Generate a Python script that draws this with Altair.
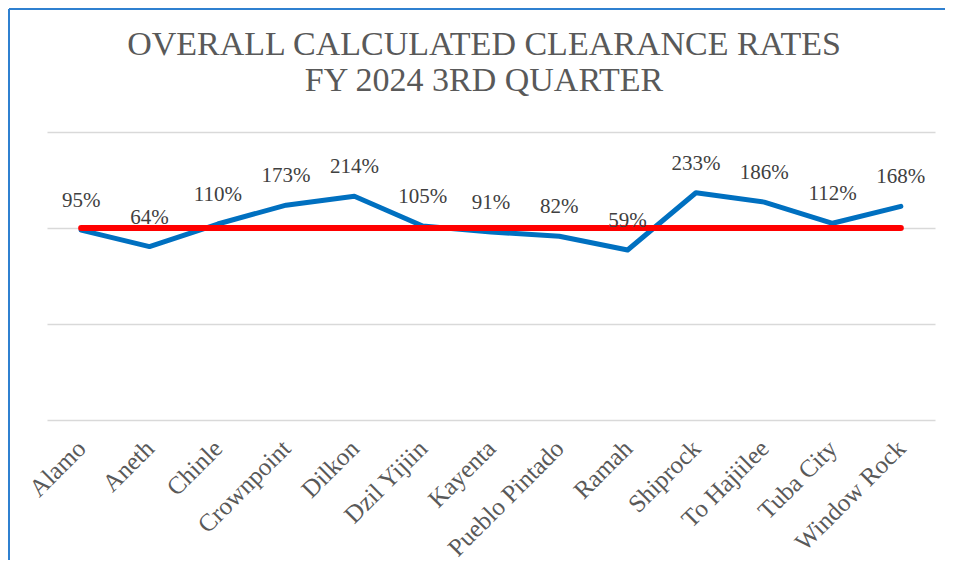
import altair as alt
import pandas as pd

sites = ["Alamo", "Aneth", "Chinle", "Crownpoint", "Dilkon", "Dzil Yijiin", "Kayenta",
         "Pueblo Pintado", "Ramah", "Shiprock", "To Hajiilee", "Tuba City", "Window Rock"]
rates_pct = [95, 64, 110, 173, 214, 105, 91, 82, 59, 233, 186, 112, 168]
target_pct = [100, 100, 100, 100, 100, 100, 100, 100, 100, 100, 100, 100, 100]
grid_values = [0.01, 0.1, 1, 10]

df = pd.DataFrame({
    "site": sites,
    "rate": [v / 100 for v in rates_pct],
    "target": [v / 100 for v in target_pct],
    "label": [f"{v}%" for v in rates_pct],
})

W, H = 888, 288
PL, PT, PR, PB = 39, 124, 10, 140
SERIF = "Liberation Serif"

x = alt.X("site:N", sort=sites, title=None,
          scale=alt.Scale(type="point", padding=0.5),
          axis=alt.Axis(labelAngle=-45, labelFont=SERIF, labelFontSize=25,
                        labelColor="#595959", domain=False, ticks=False, grid=False,
                        labelPadding=24, labelAlign="right", labelBaseline="middle"))
y_scale = alt.Scale(type="log", domain=[0.01, 10])

base = alt.Chart(df)

line = base.mark_line(color="#0070C0", strokeWidth=5, strokeCap="round",
                      strokeJoin="round").encode(
    x=x,
    y=alt.Y("rate:Q", scale=y_scale, title=None,
            axis=alt.Axis(values=grid_values, labels=False, ticks=False, domain=False,
                          grid=True, gridColor="#d9d9d9", gridWidth=1.5)),
)

target = base.mark_line(color="#FF0000", strokeWidth=6, strokeCap="round").encode(
    x=x, y=alt.Y("target:Q", scale=y_scale),
)

labels = base.mark_text(dy=-23, baseline="alphabetic", fontSize=21, font=SERIF,
                        color="#404040").encode(
    x=x, y=alt.Y("rate:Q", scale=y_scale), text="label:N",
)

border_data = alt.Data(values=[{"a": 1}])
left_border = alt.Chart(border_data).mark_rule(color="#2F80D0", strokeWidth=2).encode(
    x=alt.value(-PL + 1), y=alt.value(-PT + 1), y2=alt.value(H + PB))
top_border = alt.Chart(border_data).mark_rule(color="#2F80D0", strokeWidth=2).encode(
    x=alt.value(-PL + 1), x2=alt.value(W + PR), y=alt.value(-PT + 1))

chart = alt.layer(line, target, labels, left_border, top_border).properties(
    width=W, height=H,
    autosize=alt.AutoSizeParams(type="none"),
    padding={"left": PL, "top": PT, "right": PR, "bottom": PB},
    title=alt.TitleParams(
        text=["OVERALL CALCULATED CLEARANCE RATES", "FY 2024 3RD QUARTER"],
        font=SERIF, fontSize=34, fontWeight="normal", color="#595959",
        anchor="middle", frame="group", dx=-7, offset=-90, lineHeight=36),
).configure_view(stroke=None)

chart.save("out.html", embed_options={"renderer": "svg", "actions": False})
